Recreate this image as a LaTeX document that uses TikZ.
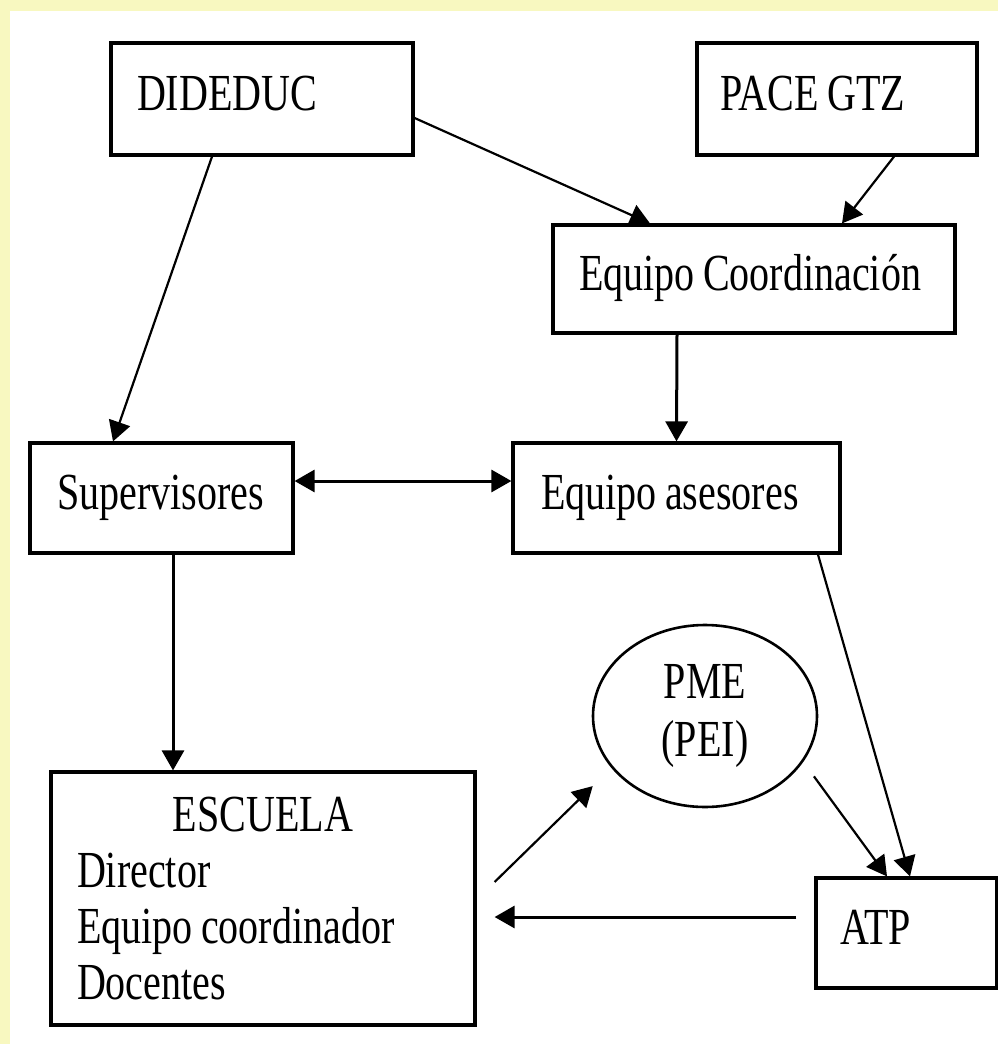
\documentclass[tikz,border=0pt]{standalone}
\usepackage{fontspec}
\setmainfont[FakeStretch=0.77,WordSpace=0.85]{Liberation Serif}
\usetikzlibrary{calc,arrows.meta,shapes.geometric}
\definecolor{fondo}{HTML}{F8F8C0}
\newcommand{\txt}[2]{\makebox[#1pt][l]{#2}}

\begin{document}
\begin{tikzpicture}[x=1pt,y=-1pt,
    caja/.style={draw,line width=3.2pt,inner sep=0pt,
      text height=34pt,text depth=12pt,font=\fontsize{52}{56}\selectfont},
    flecha/.style={line width=3pt,-{Triangle[length=20pt,width=22pt]}},
    fina/.style={flecha,line width=2.2pt}]
    \useasboundingbox (0,0) rectangle (998,1044);
    \fill[fondo] (0,0) rectangle (998,1044);
    \fill[white] (10,11) rectangle (998,1044);
    % cajas
    \node[caja,minimum width=302pt,minimum height=112pt] (dideduc) at (262,99) {\txt{250}{DIDEDUC}};
    \node[caja,minimum width=280pt,minimum height=112pt] (pacegtz) at (837,99) {\txt{234}{PACE GTZ}};
    \node[caja,minimum width=402pt,minimum height=108pt] (eqcoord) at (754,279) {\txt{350}{Equipo Coordinación}};
    \node[caja,minimum width=263pt,minimum height=110pt] (superv) at (161.5,498) {\txt{209}{Supervisores}};
    \node[caja,minimum width=327pt,minimum height=110pt] (eqases) at (676.5,498) {\txt{271}{Equipo asesores}};
    \node[caja,minimum width=424pt,minimum height=253pt,align=left,
      text height=,text depth=] (escuela) at (263,898.5)
      {\makebox[372pt]{ESCUELA}\\Director\\Equipo coordinador\\Docentes};
    \node[caja,minimum width=181pt,minimum height=110pt] (atp) at (906.5,933) {\txt{133}{ATP}};
    \node[ellipse,draw,line width=2.6pt,inner sep=0pt,minimum width=224pt,minimum height=182pt,
      align=center,font=\fontsize{52}{58}\selectfont] (pme) at (705,716) {PME\\(PEI)};
    % conexiones
    \draw[fina] ([yshift=-19pt]dideduc.east) -- ([xshift=-104pt]eqcoord.north);
    \draw[fina] ([xshift=57pt]pacegtz.south) -- ([xshift=88pt]eqcoord.north);
    \draw[fina] ([xshift=-50pt]dideduc.south) -- ([xshift=-48.5pt]superv.north);
    \draw[flecha] ([xshift=-77pt]eqcoord.south) -- (eqases.north);
    \draw[flecha,{Triangle[length=20pt,width=22pt]}-{Triangle[length=20pt,width=22pt]}]
      ([yshift=17pt]superv.east) -- ([yshift=17pt]superv.east -| eqases.west);
    \draw[flecha] ([xshift=11.5pt]superv.south) -- ([xshift=11.5pt]superv.south |- escuela.north);
    \draw[fina] ([xshift=141.5pt]eqases.south) -- ([xshift=3.5pt]atp.north);
    \draw[fina,shorten <=18pt] (pme.-25.5) -- ([xshift=-19.5pt]atp.north);
    \draw[flecha,shorten <=18pt,shorten >=18pt] ([yshift=16pt]atp.west) -- ([yshift=16pt]atp.west -| escuela.east); %ATP-escuela
    \draw[fina,shorten >=26pt] ([xshift=18pt,yshift=16.5pt]escuela.east) -- (pme.209);
\end{tikzpicture}
\end{document}
